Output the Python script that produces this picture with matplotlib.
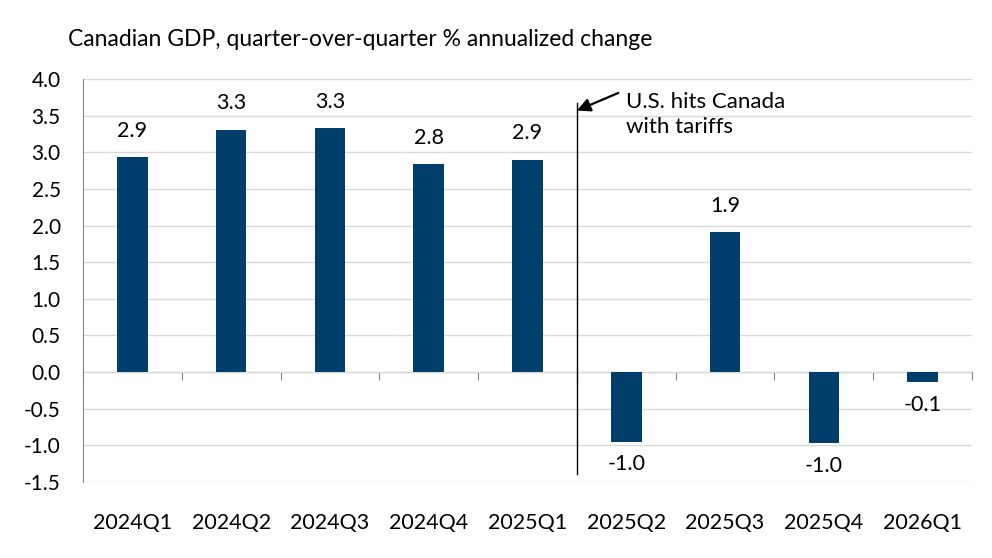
import matplotlib.pyplot as plt
import numpy as np

# data
quarters = ["2024Q1", "2024Q2", "2024Q3", "2024Q4", "2025Q1",
            "2025Q2", "2025Q3", "2025Q4", "2026Q1"]
gdp_growth = [2.94, 3.31, 3.33, 2.84, 2.90, -0.95, 1.91, -0.97, -0.14]
bar_labels = ["2.9", "3.3", "3.3", "2.8", "2.9", "-1.0", "1.9", "-1.0", "-0.1"]
y_ticks = [-1.5, -1.0, -0.5, 0.0, 0.5, 1.0, 1.5, 2.0, 2.5, 3.0, 3.5, 4.0]

plt.rcParams['font.family'] = ['Lato', 'DejaVu Sans']

bar_col = '#003e6b'
grid_col = '#d9d9d9'
axis_col = '#868686'

fig = plt.figure(figsize=(9.92, 5.58), dpi=100)
ax = fig.add_axes([83/992, 1-482/558, (972-83)/992, (482-79)/558])

x = np.arange(len(quarters))
ax.bar(x, gdp_growth, width=0.31, color=bar_col, zorder=3)

for xi, v, lab in zip(x, gdp_growth, bar_labels):
    if v >= 0:
        ax.text(xi, v + 0.22, lab, ha='center', va='bottom', fontsize=15.5)
    else:
        ax.text(xi, v - 0.17, lab, ha='center', va='top', fontsize=15.5)

ax.set_xlim(-0.5, len(quarters) - 0.5)
ax.set_ylim(-1.5, 4.0)
ax.set_yticks(y_ticks)
ax.set_yticklabels([f"{t:.1f}" for t in y_ticks], fontsize=15)
ax.set_xticks(x)
ax.set_xticklabels(quarters, fontsize=15.5)
ax.tick_params(axis='y', length=0, pad=16)
ax.tick_params(axis='x', length=0, pad=22)
ax.grid(axis='y', color=grid_col, lw=1, zorder=0)

for s in ['top', 'right', 'bottom']:
    ax.spines[s].set_visible(False)
ax.spines['left'].set_color(axis_col)

# zero line with tick marks between categories
zero_ax = ax.secondary_xaxis(1.5/5.5)
zero_ax.set_xticks(np.arange(len(quarters) + 1) - 0.5)
zero_ax.set_xticklabels([])
zero_ax.tick_params(direction='out', length=6, color=axis_col)
zero_ax.spines['bottom'].set_color(axis_col)

# tariff marker
ax.plot([4.5, 4.5], [3.67, -1.39], color='black', lw=1, zorder=4)
ax.annotate("", xy=(4.5, 3.57), xytext=(4.92, 3.81),
            arrowprops=dict(arrowstyle='-|>', color='black', lw=1.6,
                            mutation_scale=20, shrinkA=0, shrinkB=0))
ax.text(5.0, 3.52, "U.S. hits Canada\nwith tariffs", ha='left', va='center',
        fontsize=16, linespacing=1.3)

fig.text(68/992, 1-40/558, "Canadian GDP, quarter-over-quarter % annualized change",
         ha='left', va='center', fontsize=16.5)

fig.savefig("out.png", dpi=100)
